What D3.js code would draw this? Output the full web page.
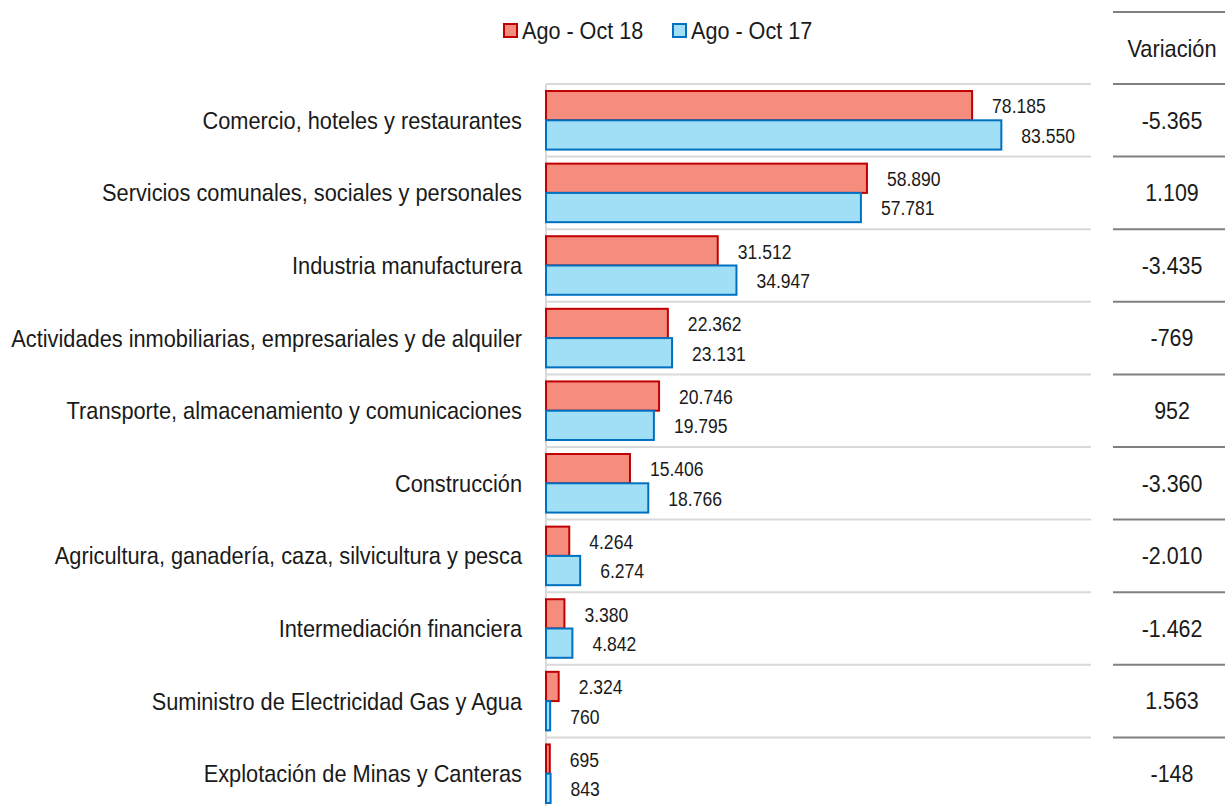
<!DOCTYPE html>
<html lang="es">
<head>
<meta charset="UTF-8">
<title>Ago - Oct 18 vs Ago - Oct 17</title>
<script src="https://d3js.org/d3.v7.min.js"></script>
<style>
  body { margin: 0; background: #fff; }
  text { font-family: "Liberation Sans", Arial, sans-serif; fill: #1a1a1a; }
</style>
</head>
<body>
<div id="chart"></div>
<script>
// datos
const categories = [
  "Comercio, hoteles y restaurantes",
  "Servicios comunales, sociales y personales",
  "Industria manufacturera",
  "Actividades inmobiliarias, empresariales y de alquiler",
  "Transporte, almacenamiento y comunicaciones",
  "Construcción",
  "Agricultura, ganadería, caza, silvicultura y pesca",
  "Intermediación financiera",
  "Suministro de Electricidad Gas y Agua",
  "Explotación de Minas y Canteras"
];
const ago18 = [78185, 58890, 31512, 22362, 20746, 15406, 4264, 3380, 2324, 695];
const ago17 = [83550, 57781, 34947, 23131, 19795, 18766, 6274, 4842, 760, 843];
const variacion = [-5365, 1109, -3435, -769, 952, -3360, -2010, -1462, 1563, -148];
const seriesNames = ["Ago - Oct 18", "Ago - Oct 17"];

const width = 1225, height = 806;
const plot = {left: 546, right: 1091, top: 84, bottom: 810};
const squeeze = 0.9; // el texto original está algo estrecho

const loc = d3.formatLocale({decimal: ",", thousands: ".", grouping: [3], currency: ["$", ""]});
const fmt = loc.format(",d");

const svg = d3.select("#chart").append("svg")
  .attr("width", width).attr("height", height);

const x = d3.scaleLinear().domain([0, 100000]).range([plot.left, plot.right]);
const y = d3.scaleBand().domain(categories).range([plot.top, plot.bottom]);
const inner = d3.scaleBand().domain(seriesNames).range([0, y.bandwidth()]).paddingOuter(0.24);

const fills = ["#F58D7F", "#A1DFF6"];
const strokes = ["#C00000", "#0070C0"];

function place(sel, fx, fy) {
  return sel.attr("transform", (d, i) => `translate(${fx(d, i)},${fy(d, i)}) scale(${squeeze},1)`)
    .attr("dy", "0.35em");
}

// rejilla
svg.append("g").selectAll("line")
  .data(categories)
  .join("line")
  .attr("x1", plot.left).attr("x2", plot.right)
  .attr("y1", d => y(d)).attr("y2", d => y(d))
  .attr("stroke", "#D9D9D9").attr("stroke-width", 2);

svg.append("line")
  .attr("x1", plot.left).attr("x2", plot.left)
  .attr("y1", plot.top).attr("y2", plot.bottom)
  .attr("stroke", "#D9D9D9").attr("stroke-width", 2);

// barras
const series = [ago18, ago17];
series.forEach((vals, s) => {
  const g = svg.append("g");
  g.selectAll("rect")
    .data(categories)
    .join("rect")
    .attr("x", x(0))
    .attr("y", d => y(d) + inner(seriesNames[s]))
    .attr("width", (d, i) => Math.max(0, x(vals[i]) - x(0)))
    .attr("height", inner.bandwidth())
    .attr("fill", fills[s])
    .attr("stroke", strokes[s])
    .attr("stroke-width", 2);
  g.selectAll("text")
    .data(categories)
    .join("text")
    .call(place, (d, i) => x(vals[i]) + 20, d => y(d) + inner(seriesNames[s]) + inner.bandwidth() / 2 + 1)
    .attr("font-size", 19.5)
    .text((d, i) => fmt(vals[i]));
});

// etiquetas de categorías
svg.append("g").selectAll("text")
  .data(categories)
  .join("text")
  .call(place, () => 522, d => y(d) + y.bandwidth() / 2)
  .attr("text-anchor", "end")
  .attr("font-size", 24.2)
  .text(d => d);

// tabla de variación
const tx1 = 1113, tx2 = 1225, tcx = 1172;
const tableLines = [12].concat(categories.map(d => y(d)));
svg.append("g").selectAll("line")
  .data(tableLines)
  .join("line")
  .attr("x1", tx1).attr("x2", tx2)
  .attr("y1", d => d).attr("y2", d => d)
  .attr("stroke", "#808080").attr("stroke-width", 2);

svg.append("text")
  .call(place, () => tcx, () => 49)
  .attr("text-anchor", "middle")
  .attr("font-size", 24.2)
  .text("Variación");

svg.append("g").selectAll("text")
  .data(categories)
  .join("text")
  .call(place, () => tcx, d => y(d) + y.bandwidth() / 2)
  .attr("text-anchor", "middle")
  .attr("font-size", 23.8)
  .text((d, i) => fmt(variacion[i]).replace("−", "-"));

// leyenda
const legend = svg.append("g");
const legX = [503, 672];
seriesNames.forEach((n, s) => {
  legend.append("rect")
    .attr("x", legX[s] + 1).attr("y", 24)
    .attr("width", 13).attr("height", 13)
    .attr("fill", fills[s]).attr("stroke", strokes[s]).attr("stroke-width", 2);
  legend.append("text")
    .call(place, () => legX[s] + 19, () => 31)
    .attr("font-size", 24)
    .text(n);
});
</script>
</body>
</html>
